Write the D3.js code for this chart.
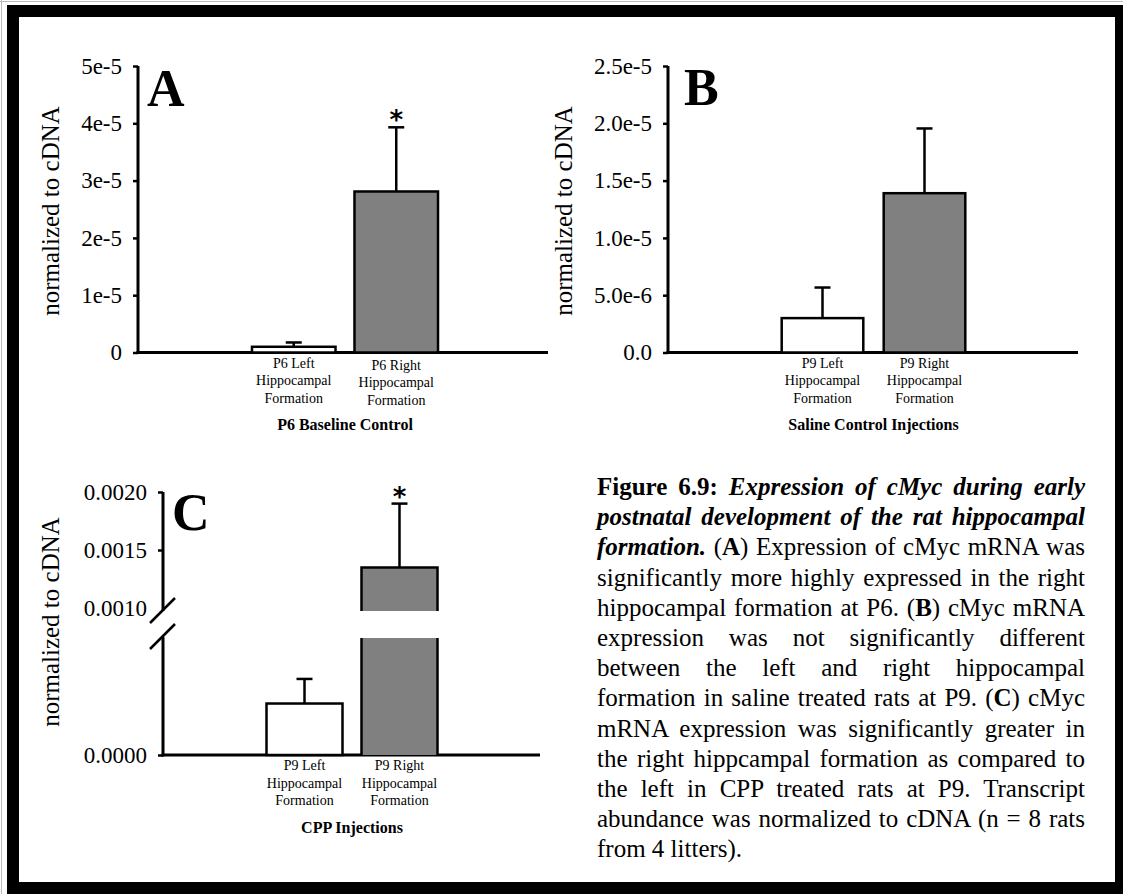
<!DOCTYPE html>
<html><head><meta charset="utf-8">
<script src="https://cdn.jsdelivr.net/npm/d3@7"></script>
<style>body{margin:0;background:#fff} svg{display:block} svg text{font-family:"Liberation Serif","Times New Roman",Times,serif;}</style>
</head><body><svg id="chart" width="1123" height="894"></svg>
<script>
// ---------------- DATA ----------------
const categoriesA = [["P6 Left","Hippocampal","Formation"],["P6 Right","Hippocampal","Formation"]];
const meansA = [1.0e-6, 2.81e-5];
const errorsA = [0.75e-6, 1.12e-5];
const sigA = [false, true];
const ticksA = [0, 1e-5, 2e-5, 3e-5, 4e-5, 5e-5];
const tickLabelsA = ["0","1e-5","2e-5","3e-5","4e-5","5e-5"];
const titleA = "P6 Baseline Control";

const categoriesB = [["P9 Left","Hippocampal","Formation"],["P9 Right","Hippocampal","Formation"]];
const meansB = [3.0e-6, 1.39e-5];
const errorsB = [2.67e-6, 0.565e-5];
const sigB = [false, false];
const ticksB = [0, 5e-6, 1e-5, 1.5e-5, 2e-5, 2.5e-5];
const tickLabelsB = ["0.0","5.0e-6","1.0e-5","1.5e-5","2.0e-5","2.5e-5"];
const titleB = "Saline Control Injections";

const categoriesC = [["P9 Left","Hippocampal","Formation"],["P9 Right","Hippocampal","Formation"]];
const meansC = [0.00044, 0.00135];
const errorsC = [0.00021, 0.00055];
const sigC = [false, true];
const ticksC = [0, 0.0010, 0.0015, 0.0020];
const tickLabelsC = ["0.0000","0.0010","0.0015","0.0020"];
const breakC = 0.0010;
const titleC = "CPP Injections";

const yAxisLabel = "normalized to cDNA";
const panelLetters = ["A","B","C"];
const barFills = ["#ffffff","#808080"];

// caption: each line = list of [style, text]; style: n normal, b bold, bi bold italic
const captionLines = [
  [["b","Figure 6.9: "],["bi","Expression of cMyc during early"]],
  [["bi","postnatal development of the rat hippocampal"]],
  [["bi","formation."],["n"," ("],["b","A"],["n",") Expression of cMyc mRNA was"]],
  [["n","significantly more highly expressed in the right"]],
  [["n","hippocampal formation at P6. ("],["b","B"],["n",") cMyc mRNA"]],
  [["n","expression was not significantly different"]],
  [["n","between the left and right hippocampal"]],
  [["n","formation in saline treated rats at P9. ("],["b","C"],["n",") cMyc"]],
  [["n","mRNA expression was significantly greater in"]],
  [["n","the right hippcampal formation as compared to"]],
  [["n","the left in CPP treated rats at P9. Transcript"]],
  [["n","abundance was normalized to cDNA (n = 8 rats"]],
  [["n","from 4 litters)."]]
];

// ---------------- LAYOUT ----------------
const FONT = '"Liberation Serif","Times New Roman",Times,serif';
const svg = d3.select("#chart");
svg.append("rect").attr("x",0).attr("y",0).attr("width",1123).attr("height",894).attr("fill","#fff");

function setFont(sel, size){ return sel.style("font-family",FONT).style("font-size",size+"px"); }

function drawPanel(cfg){
  const g = svg.append("g");
  const x = d3.scaleBand().domain(cfg.cats.map((d,i)=>i)).range([cfg.bx0, cfg.bx1]).paddingInner(cfg.padIn).paddingOuter(cfg.padIn/2);
  let yFn, broken = cfg.broken;
  let yLow, yUp;
  if (!broken){
    const y = d3.scaleLinear().domain([0, cfg.ticks[cfg.ticks.length-1]]).range([cfg.y0, cfg.yTop]);
    yFn = y;
    const ax = d3.axisLeft(y).tickValues(cfg.ticks).tickFormat((d,i)=>cfg.tickLabels[i]).tickSize(5).tickSizeOuter(0).tickPadding(11);
    const ag = g.append("g").attr("transform",`translate(${cfg.x0},0)`).call(ax);
    ag.select(".domain").attr("stroke","#000").attr("stroke-width",3).attr("d",`M0,${cfg.yTop}V${cfg.y0+1.5}`);
    ag.selectAll(".tick line").attr("stroke","#000").attr("stroke-width",2.5);
    setFont(ag.selectAll(".tick text"), cfg.tickFont).attr("fill","#000");
  } else {
    yLow = d3.scaleLinear().domain([0, cfg.breakV]).range([cfg.y0, cfg.yBreakLow]);
    yUp = d3.scaleLinear().domain([cfg.breakV, cfg.ticks[cfg.ticks.length-1]]).range([cfg.yBreakUp, cfg.yTop]);
    yFn = v => v <= cfg.breakV ? yLow(v) : yUp(v);
    const up = cfg.ticks.filter(t=>t>=cfg.breakV), lo = cfg.ticks.filter(t=>t<cfg.breakV);
    const lab = t => cfg.tickLabels[cfg.ticks.indexOf(t)];
    const a1 = g.append("g").attr("transform",`translate(${cfg.x0},0)`).call(d3.axisLeft(yUp).tickValues(up).tickFormat(lab).tickSize(5).tickSizeOuter(0).tickPadding(11));
    const a2 = g.append("g").attr("transform",`translate(${cfg.x0},0)`).call(d3.axisLeft(yLow).tickValues(lo).tickFormat(lab).tickSize(5).tickSizeOuter(0).tickPadding(11));
    [a1,a2].forEach(a=>{
      a.select(".domain").remove();
      a.selectAll(".tick line").attr("stroke","#000").attr("stroke-width",2.5);
      setFont(a.selectAll(".tick text"), cfg.tickFont).attr("fill","#000");
    });
    a1.selectAll(".tick").filter(d=>d===cfg.breakV).select("line").remove();
    g.append("line").attr("x1",cfg.x0).attr("x2",cfg.x0).attr("y1",cfg.yTop).attr("y2",yUp(cfg.breakV)+3).attr("stroke","#000").attr("stroke-width",3);
    g.append("line").attr("x1",cfg.x0).attr("x2",cfg.x0).attr("y1",yLow(cfg.breakV)-1).attr("y2",cfg.y0+1.5).attr("stroke","#000").attr("stroke-width",3);
    [yUp(cfg.breakV)+2, yLow(cfg.breakV)-2].forEach(yy=>{
      g.append("line").attr("x1",cfg.x0-13).attr("y1",yy+13).attr("x2",cfg.x0+12).attr("y2",yy-12).attr("stroke","#000").attr("stroke-width",2.5);
    });
  }
  // x axis
  g.append("line").attr("x1",cfg.x0-1.5).attr("x2",cfg.x1).attr("y1",cfg.y0).attr("y2",cfg.y0).attr("stroke","#000").attr("stroke-width",3);

  // bars
  cfg.means.forEach((m,i)=>{
    const bx = x(i), bw = x.bandwidth();
    const fill = barFills[i];
    if (broken && m > cfg.breakV){
      const yb1 = yLow(cfg.breakV), yb2 = yUp(cfg.breakV)+3, yt = yUp(m);
      g.append("rect").attr("x",bx).attr("y",yb1).attr("width",bw).attr("height",cfg.y0-yb1).attr("fill",fill);
      g.append("rect").attr("x",bx).attr("y",yt).attr("width",bw).attr("height",yb2-yt).attr("fill",fill);
      g.append("path").attr("d",`M${bx},${cfg.y0}V${yb1}M${bx+bw},${cfg.y0}V${yb1}M${bx},${yb2}V${yt}H${bx+bw}V${yb2}`)
        .attr("fill","none").attr("stroke","#000").attr("stroke-width",2.5);
    } else {
      const yt = yFn(m);
      g.append("rect").attr("x",bx).attr("y",yt).attr("width",bw).attr("height",cfg.y0-yt).attr("fill",fill).attr("stroke","#000").attr("stroke-width",2.5);
    }
    // error bar
    const cx = bx + bw/2, ye = yFn(m + cfg.errors[i]);
    g.append("line").attr("x1",cx).attr("x2",cx).attr("y1",yFn(m)).attr("y2",ye).attr("stroke","#000").attr("stroke-width",2.5);
    g.append("line").attr("x1",cx-8).attr("x2",cx+8).attr("y1",ye).attr("y2",ye).attr("stroke","#000").attr("stroke-width",2.5);
    if (cfg.sig[i]){
      g.append("text").attr("x",cx).attr("y",ye+2).attr("text-anchor","middle")
        .style("font-family","'DejaVu Sans',sans-serif").style("font-weight","bold").style("font-size","26px").text("*");
    }
    // category labels
    const t = setFont(g.append("text").attr("text-anchor","middle"), cfg.catFont).attr("fill","#000");
    cfg.cats[i].forEach((ln,k)=>{
      t.append("tspan").attr("x",cx).attr("y",cfg.y0 + cfg.catDy + i*cfg.catShift + k*cfg.catLH).text(ln);
    });
  });
  // group title
  setFont(g.append("text").attr("x",(x(0)+x(1)+x.bandwidth())/2).attr("y",cfg.y0+cfg.titleDy).attr("text-anchor","middle"), cfg.titleFont)
    .style("font-weight","bold").text(cfg.title);
  // y label
  setFont(g.append("text").attr("transform",`translate(${cfg.ylx},${cfg.yly}) rotate(-90)`).attr("text-anchor","middle")
    .attr("dominant-baseline","central"), cfg.ylFont).text(yAxisLabel);
  // panel letter
  setFont(g.append("text").attr("x",cfg.lx).attr("y",cfg.ly), 52).style("font-weight","bold").text(cfg.letter);
}

drawPanel({cats:categoriesA, means:meansA, errors:errorsA, sig:sigA, ticks:ticksA, tickLabels:tickLabelsA, title:titleA,
  x0:138, x1:548, y0:352.5, yTop:66, bx0:242.5, bx1:447.5, padIn:0.185, tickFont:23,
  catFont:14, catDy:15, catShift:2, catLH:17.5, titleDy:77, titleFont:16,
  ylx:50, yly:211, ylFont:25, lx:147, ly:106, letter:panelLetters[0]});

drawPanel({cats:categoriesB, means:meansB, errors:errorsB, sig:sigB, ticks:ticksB, tickLabels:tickLabelsB, title:titleB,
  x0:668, x1:1078, y0:352.5, yTop:66, bx0:771.5, bx1:975.5, padIn:0.2, tickFont:23,
  catFont:14, catDy:15, catShift:0, catLH:17.5, titleDy:77, titleFont:16,
  ylx:563, yly:211, ylFont:25, lx:684, ly:105, letter:panelLetters[1]});

drawPanel({cats:categoriesC, means:meansC, errors:errorsC, sig:sigC, ticks:ticksC, tickLabels:tickLabelsC, title:titleC,
  broken:true, breakV:breakC, yBreakLow:638, yBreakUp:608,
  x0:163, x1:540, y0:755, yTop:492, bx0:257, bx1:447, padIn:0.2, tickFont:23,
  catFont:14, catDy:15, catShift:0, catLH:17.5, titleDy:78, titleFont:16,
  ylx:50, yly:622, ylFont:25, lx:172, ly:530, letter:panelLetters[2]});

// caption (justified)
const capL = 597, capR = 1085, capY0 = 495, capLH = 30.2, capFont = 25;
captionLines.forEach((line,i)=>{
  const t = setFont(svg.append("text").attr("x",capL).attr("y",capY0 + i*capLH), capFont).attr("fill","#000").style("white-space","pre");
  line.forEach(([st,txt])=>{
    t.append("tspan").style("font-weight", st.includes("b")?"bold":"normal").style("font-style", st.includes("i")?"italic":"normal").text(txt);
  });
  if (i < captionLines.length-1){
    const w = t.node().getComputedTextLength();
    const nSp = line.map(d=>d[1]).join("").split(" ").length-1;
    const extra = (capR-capL-w)/nSp;
    t.style("word-spacing", extra+"px");
  }
});

// faint page edge + outer frame
svg.append("path").attr("d","M0,1.5H1123M1.5,0V894").attr("stroke","#bbb").attr("stroke-width",1);
svg.append("rect").attr("x",13).attr("y",11).attr("width",1108).attr("height",877).attr("fill","none").attr("stroke","#000").attr("stroke-width",12);
</script></body></html>
